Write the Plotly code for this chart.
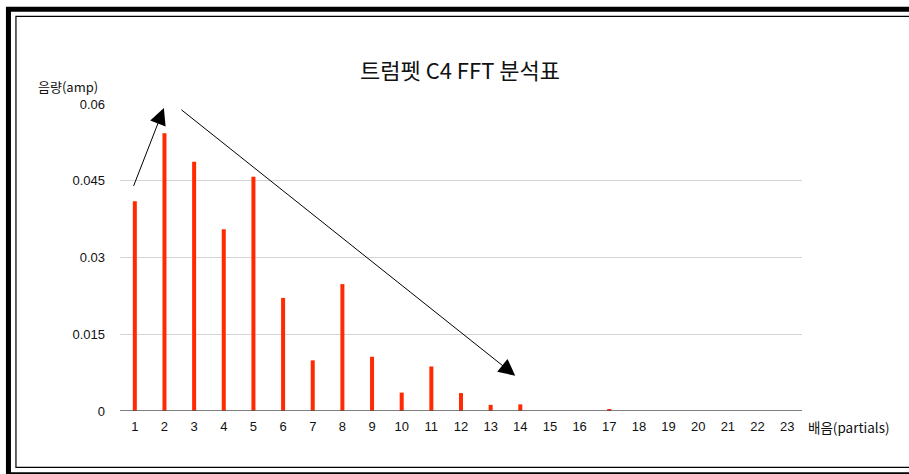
import plotly.graph_objects as go

partials = list(range(1, 24))
amps = [0.0410, 0.0543, 0.0487, 0.0355, 0.0458, 0.0221, 0.0099, 0.0248, 0.0106,
        0.0036, 0.0087, 0.0035, 0.0012, 0.0013, 0.0, 0.0, 0.0003, 0.0, 0.0,
        0.0, 0.0, 0.0, 0.0]
y_ticks = [0, 0.015, 0.03, 0.045, 0.06]
y_tick_text = ["0", "0.015", "0.03", "0.045", "0.06"]

title_text = "트럼펫 C4 FFT 분석표"
y_title = "음량(amp)"
x_title = "배음(partials)"

FONT = "Liberation Sans"
KFONT = "Noto Sans CJK KR"

W, H = 909, 474
L, R, T, B = 120, 107.3, 103.5, 62.5
pw, ph = W - L - R, H - T - B

def px(x):
    return (x - L) / pw

def py(y):
    return (H - B - y) / ph

fig = go.Figure()
fig.add_trace(go.Bar(
    x=partials, y=amps, width=[0.135] * len(partials),
    marker=dict(color="#ff2a00", line=dict(width=0)),
))

fig.update_layout(
    width=W, height=H,
    margin=dict(l=L, r=R, t=T, b=B, pad=0),
    paper_bgcolor="white", plot_bgcolor="white",
    showlegend=False,
    font=dict(family=FONT, size=13, color="#111"),
    title=dict(text=title_text, x=460 / W, xanchor="center",
               y=1 - 71 / H, yanchor="middle",
               font=dict(family=KFONT, size=22, color="#111")),
)
fig.update_xaxes(
    range=[0.5, 23.5], tickvals=partials, ticktext=[str(p) for p in partials],
    showgrid=False, zeroline=False, showline=False, ticks="",
    tickfont=dict(size=13, family=FONT), ticklabelstandoff=6,
)
fig.update_yaxes(
    range=[0, 0.06], tickvals=y_ticks, ticktext=y_tick_text,
    showgrid=True, gridcolor="#d4d4d4", gridwidth=1,
    zeroline=False, showline=False, ticks="",
    tickfont=dict(size=13, family=FONT), ticklabelstandoff=14,
)

shapes = [
    # zero baseline
    dict(type="line", xref="paper", yref="y", x0=0, x1=1, y0=0, y1=0,
         line=dict(color="#555555", width=1.5)),
    # outer thick frame
    dict(type="rect", xref="paper", yref="paper",
         x0=px(8.5), x1=px(960), y0=py(8.5), y1=py(475.5),
         line=dict(color="black", width=5), layer="above"),
    # inner thin frame
    dict(type="rect", xref="paper", yref="paper",
         x0=px(16), x1=px(960), y0=py(15.5), y1=py(468),
         line=dict(color="black", width=1.2), layer="above"),
]
fig.update_layout(shapes=shapes)

annotations = [
    dict(text=y_title, xref="paper", yref="paper", x=px(100.5), y=py(86),
         xanchor="right", yanchor="middle", showarrow=False,
         font=dict(family=KFONT, size=13, color="#111")),
    dict(text=x_title, xref="paper", yref="paper", x=px(806), y=py(427.5),
         xanchor="left", yanchor="middle", showarrow=False,
         font=dict(family=KFONT, size=13.5, color="#111")),
    # arrows
    dict(x=1.98, y=0.0592, ax=0.94, ay=0.0437, xref="x", yref="y",
         axref="x", ayref="y", text="", showarrow=True, arrowhead=2,
         arrowsize=3.3, arrowwidth=1, arrowcolor="black", standoff=0),
    dict(x=13.83, y=0.0069, ax=2.52, ay=0.0591, xref="x", yref="y",
         axref="x", ayref="y", text="", showarrow=True, arrowhead=2,
         arrowsize=3.3, arrowwidth=1, arrowcolor="black", standoff=0),
]
fig.update_layout(annotations=annotations)

fig.write_html(
    "out.html",
    config={"displayModeBar": False},
    post_script="document.body.style.margin='0px';document.body.style.overflow='hidden';",
)
